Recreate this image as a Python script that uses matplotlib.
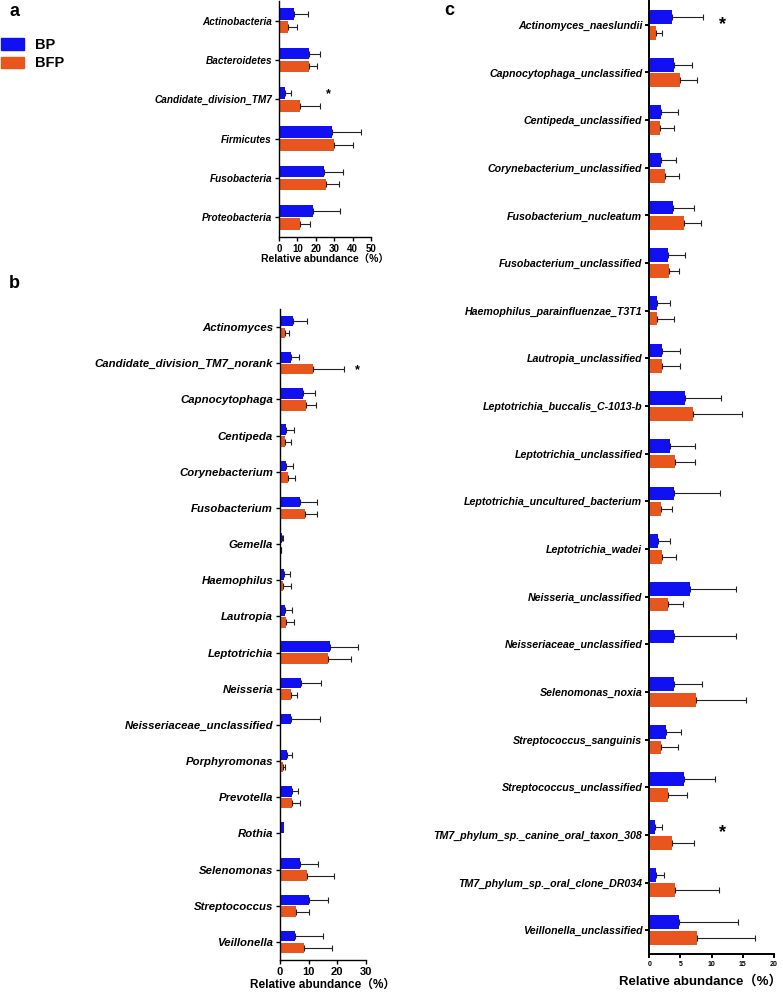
import numpy as np
import matplotlib
matplotlib.use("Agg")
import matplotlib.pyplot as plt
from matplotlib.patches import Patch

plt.rcParams['font.family'] = ['Liberation Sans', 'Noto Sans CJK SC', 'DejaVu Sans']

BLUE = '#1010F2'
ORANGE = '#E8561E'

# ---- panel a: phylum level ----
phyla = ["Actinobacteria", "Bacteroidetes", "Candidate_division_TM7",
         "Firmicutes", "Fusobacteria", "Proteobacteria"]
phyla_bp = [8.2, 16.3, 3.4, 29.0, 24.3, 18.3]
phyla_bp_sd = [7.4, 6.0, 3.3, 15.6, 10.7, 14.9]
phyla_bfp = [4.9, 16.3, 11.4, 29.7, 25.4, 11.2]
phyla_bfp_sd = [4.7, 4.5, 10.9, 10.3, 7.2, 5.6]

# ---- panel b: genus level ----
genera = ["Actinomyces", "Candidate_division_TM7_norank", "Capnocytophaga",
          "Centipeda", "Corynebacterium", "Fusobacterium", "Gemella",
          "Haemophilus", "Lautropia", "Leptotrichia", "Neisseria",
          "Neisseriaceae_unclassified", "Porphyromonas", "Prevotella",
          "Rothia", "Selenomonas", "Streptococcus", "Veillonella"]
genera_bp = [4.4, 3.7, 8.0, 2.0, 2.2, 6.9, 0.6, 1.3, 1.9, 17.5, 7.3, 3.8,
             2.6, 4.1, 1.4, 7.0, 10.0, 5.2]
genera_bp_sd = [5.0, 3.1, 4.2, 2.8, 2.5, 6.0, 0.4, 2.1, 2.4, 9.7, 7.1, 10.2,
                1.7, 2.2, 0.0, 6.4, 6.8, 9.8]
genera_bfp = [1.7, 11.7, 9.1, 1.7, 2.8, 8.6, 0.2, 1.2, 2.0, 16.7, 3.8, 0.0,
              1.0, 4.2, 0.0, 9.5, 5.5, 8.4]
genera_bfp_sd = [1.3, 10.7, 3.5, 2.3, 2.6, 4.4, 0.2, 2.8, 3.0, 8.2, 2.1, 0.0,
                 0.9, 2.7, 0.0, 9.3, 4.8, 9.8]

# ---- panel c: species level ----
species = ["Actinomyces_naeslundii", "Capnocytophaga_unclassified",
           "Centipeda_unclassified", "Corynebacterium_unclassified",
           "Fusobacterium_nucleatum", "Fusobacterium_unclassified",
           "Haemophilus_parainfluenzae_T3T1", "Lautropia_unclassified",
           "Leptotrichia_buccalis_C-1013-b", "Leptotrichia_unclassified",
           "Leptotrichia_uncultured_bacterium", "Leptotrichia_wadei",
           "Neisseria_unclassified", "Neisseriaceae_unclassified",
           "Selenomonas_noxia", "Streptococcus_sanguinis",
           "Streptococcus_unclassified", "TM7_phylum_sp._canine_oral_taxon_308",
           "TM7_phylum_sp._oral_clone_DR034", "Veillonella_unclassified"]
species_bp = [3.7, 3.95, 1.8, 1.8, 3.85, 3.0, 1.3, 2.0, 5.7, 3.25, 3.9, 1.45,
              6.6, 3.9, 3.9, 2.7, 5.6, 0.9, 1.1, 4.75]
species_bp_sd = [4.95, 2.95, 2.85, 2.5, 3.35, 2.8, 2.0, 3.0, 5.8, 4.15, 7.4,
                 1.95, 7.3, 10.0, 4.55, 2.4, 5.0, 1.2, 1.25, 9.4]
species_bfp = [1.1, 5.0, 1.65, 2.55, 5.5, 3.1, 1.3, 2.0, 7.05, 4.05, 1.9, 2.0,
               3.05, 0.0, 7.5, 1.9, 2.95, 3.6, 4.2, 7.7]
species_bfp_sd = [1.0, 2.6, 2.25, 2.2, 2.8, 1.7, 2.6, 3.0, 7.8, 3.35, 1.8, 2.3,
                  2.4, 0.0, 8.0, 2.65, 3.05, 3.55, 7.0, 9.2]


def draw_panel(ax, cats, bp, bp_sd, bfp, bfp_sd, xmax, step,
               cat_size, tick_size, label_size, spine_w):
    y = np.arange(len(cats))
    off, h = 0.165, 0.29
    for vals, sd, sign, col in [(bp, bp_sd, -1, BLUE), (bfp, bfp_sd, 1, ORANGE)]:
        vals = np.array(vals)
        sd = np.array(sd)
        ax.barh(y + sign * off, vals, height=h, color=col, edgecolor='none')
        m = sd > 0
        ax.errorbar(vals[m], (y + sign * off)[m], xerr=[np.zeros(m.sum()), sd[m]],
                    fmt='none', ecolor='#222222', elinewidth=0.8,
                    capsize=2.3, capthick=0.8)
    ax.set_ylim(len(cats) - 0.5, -0.5)
    ax.set_xlim(0, xmax)
    ax.set_yticks(y)
    ax.set_yticklabels(cats, fontsize=cat_size, fontstyle='italic', fontweight='bold')
    ax.set_xticks(np.arange(0, xmax + 0.01, step))
    ax.tick_params(axis='x', labelsize=tick_size, length=3, width=spine_w, pad=2)
    ax.tick_params(axis='y', length=3, width=spine_w, pad=2)
    for t in ax.get_xticklabels():
        t.set_fontweight('bold')
    for s in ['top', 'right']:
        ax.spines[s].set_visible(False)
    for s in ['left', 'bottom']:
        ax.spines[s].set_linewidth(spine_w)
    ax.set_xlabel('Relative abundance（%）', fontsize=label_size,
                  fontweight='bold', labelpad=1)


W, H = 783, 992
fig = plt.figure(figsize=(W / 100, H / 100), dpi=100)


def px_axes(x0, y0, x1, y1):
    return fig.add_axes([x0 / W, 1 - y1 / H, (x1 - x0) / W, (y1 - y0) / H])


ax_a = px_axes(279, 1, 371, 237)
draw_panel(ax_a, phyla, phyla_bp, phyla_bp_sd, phyla_bfp, phyla_bfp_sd,
           50, 10, 7.2, 7, 7.5, 1.0)
ax_a.text(27, 1.87, '*', fontsize=9, fontweight='bold', ha='center', va='center')

ax_b = px_axes(280, 309, 365.7, 960)
draw_panel(ax_b, genera, genera_bp, genera_bp_sd, genera_bfp, genera_bfp_sd,
           30, 10, 8.2, 8, 8.5, 1.0)
ax_b.text(27, 1.2, '*', fontsize=9, fontweight='bold', ha='center', va='center')

ax_c = px_axes(649.3, 1, 774, 954)
draw_panel(ax_c, species, species_bp, species_bp_sd, species_bfp, species_bfp_sd,
           20, 5, 7.7, 5, 9.5, 1.4)
ax_c.xaxis.set_label_coords((700 - 649.3) / 124.7, -0.022)
ax_c.text(11.75, 0.0, '*', fontsize=13, fontweight='bold', ha='center', va='center')
ax_c.text(11.75, 16.95, '*', fontsize=13, fontweight='bold', ha='center', va='center')

# panel letters
fig.text(9 / W, 1 - 3 / H, 'a', fontsize=13, fontweight='bold', va='top')
fig.text(9 / W, 1 - 275 / H, 'b', fontsize=13, fontweight='bold', va='top')
fig.text(444 / W, 1 - 2 / H, 'c', fontsize=13, fontweight='bold', va='top')

handles = [Patch(color=BLUE), Patch(color=ORANGE)]
fig.legend(handles, ['BP', 'BFP'], loc='upper left',
           bbox_to_anchor=(0.001, 1 - 38 / H), frameon=False,
           prop={'size': 10.5, 'weight': 'bold'}, handlelength=1.6,
           handleheight=0.85, borderaxespad=0, borderpad=0,
           labelspacing=0.3, handletextpad=0.75)

fig.savefig('out.png', dpi=100)
